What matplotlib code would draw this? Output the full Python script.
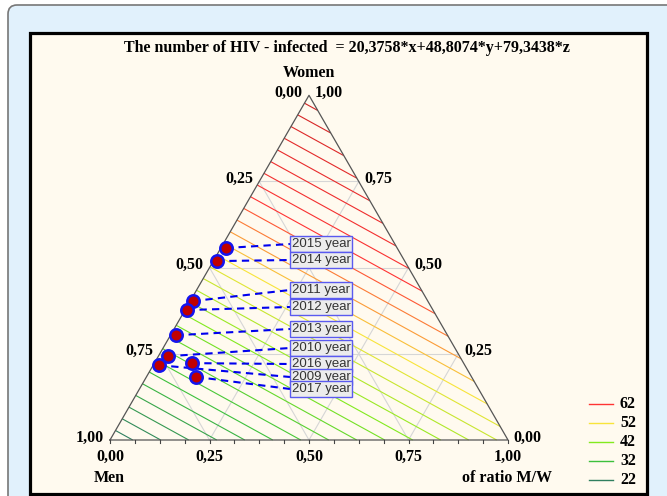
import numpy as np
import matplotlib
matplotlib.use('Agg')
import matplotlib.pyplot as plt
import matplotlib.tri as mtri
from matplotlib.colors import LinearSegmentedColormap
from matplotlib.patches import FancyBboxPatch, Rectangle

# model: infected = a*x + b*y + c*z  (x = men, y = ratio M/W, z = women)
coef_men = 20.3758
coef_ratio = 48.8074
coef_women = 79.3438

years = ['2015', '2014', '2011', '2012', '2013', '2010', '2009', '2016', '2017']
women = [0.557, 0.519, 0.403, 0.377, 0.304, 0.243, 0.217, 0.223, 0.183]
ratio = [0.013, 0.009, 0.007, 0.005, 0.014, 0.024, 0.014, 0.094, 0.125]

levels = np.arange(22, 80, 2)
legend_levels = [62, 52, 42, 32, 22]
tick_labels = ['0,00', '0,25', '0,50', '0,75', '1,00']

# label box rows (pixels)
label_rows = {'2015': 244, '2014': 260, '2011': 290, '2012': 307, '2013': 329,
              '2010': 348, '2016': 364, '2009': 377, '2017': 389}

# triangle placement in pixels
X0, SIDE, YB = 110, 398, 440
H = SIDE * np.sqrt(3) / 2


def tern(r, w):
    r = np.asarray(r, float)
    w = np.asarray(w, float)
    return X0 + SIDE * (r + w / 2), YB - H * w


cmap = LinearSegmentedColormap.from_list(
    'hiv', [(0.0, '#2f7f5f'), (10 / 58, '#3cc03c'), (20 / 58, '#82ea1e'),
            (30 / 58, '#f8e43a'), (40 / 58, '#ff3333'), (1.0, '#cc2222')])
norm = plt.Normalize(22, 80)

fig = plt.figure(figsize=(6.67, 4.96), dpi=100)
ax = fig.add_axes([0, 0, 1, 1])
ax.set_xlim(0, 667)
ax.set_ylim(496, 0)
ax.axis('off')

ax.add_patch(FancyBboxPatch((8, 5), 720, 540, boxstyle='round,pad=0,rounding_size=9',
                            fc='#e1f1fc', ec='#777777', lw=1.2, zorder=0))
ax.add_patch(Rectangle((30, 33), 617, 461, fc='#fffaef', ec='black', lw=2.3, zorder=1))

# grid over triangle for contours
n = 60
rr, ww = [], []
for i in range(n + 1):
    for j in range(n + 1 - i):
        rr.append(i / n)
        ww.append(j / n)
rr = np.array(rr)
ww = np.array(ww)
mm = 1 - rr - ww
vals = coef_men * mm + coef_ratio * rr + coef_women * ww
gx, gy = tern(rr, ww)
tri = mtri.Triangulation(gx, gy)
ax.tricontour(tri, vals, levels=levels, colors=[cmap(norm(v)) for v in levels],
              linewidths=0.8, zorder=3)

# grid lines
for v in [0.25, 0.5, 0.75]:
    for (r1, w1), (r2, w2) in [((0, v), (1 - v, v)), ((v, 0), (v, 1 - v)), ((1 - v, 0), (0, 1 - v))]:
        xs, ys = tern([r1, r2], [w1, w2])
        ax.plot(xs, ys, color='#d6d6d6', lw=0.8, zorder=2)

# triangle edges
xs, ys = tern([0, 1, 0, 0], [0, 0, 1, 0])
ax.plot(xs, ys, color='#555555', lw=0.9, zorder=4)

# bottom ticks
for t in np.arange(0, 1.0001, 1 / 16):
    tx, ty = tern(t, 0)
    ax.plot([tx, tx], [ty, ty + 3], color='#444444', lw=0.8, zorder=4)

font = dict(family='Liberation Serif', fontweight='bold', fontsize=11.5, color='black')

ax.text(347, 48, 'The number of HIV - infected  = 20,3758*x+48,8074*y+79,3438*z',
        ha='center', va='center', **font)
ax.text(309, 73, 'Women', ha='center', va='center', **font)
ax.text(302, 93, '0,00', ha='right', va='center', **font)
ax.text(315, 93, '1,00', ha='left', va='center', **font)

for k, lab in enumerate(tick_labels):
    v = k / 4
    bx, by = tern(v, 0)
    ax.text(bx, 457, lab, ha='center', va='center', **font)
ax.text(104, 438, '1,00', ha='right', va='center', **font)
ax.text(513, 438, '0,00', ha='left', va='center', **font)
for lab, w in [('0,75', 0.25), ('0,50', 0.5), ('0,25', 0.75)]:
    lx, ly = tern(0, w)
    ax.text(lx - 6, ly - 3, lab, ha='right', va='center', **font)
for lab, w in [('0,25', 0.25), ('0,50', 0.5), ('0,75', 0.75)]:
    lx, ly = tern(1 - w, w)
    ax.text(lx + 6, ly - 3, lab, ha='left', va='center', **font)
ax.text(109, 478, 'Men', ha='center', va='center', **font)
ax.text(507, 478, 'of ratio M/W', ha='center', va='center', **font)

# data points with labels
px, py = tern(ratio, women)
for yr, x1, y1 in zip(years, px, py):
    ly = label_rows[yr]
    ax.plot([x1, 290], [y1, ly], color='#0000ee', lw=1.5, ls=(0, (3.5, 2.5)), zorder=5)
for k, yr in enumerate(sorted(label_rows, key=label_rows.get)):
    ax.text(292, label_rows[yr], yr + ' year', family='Liberation Sans', fontsize=9.5,
            color='#333333', ha='left', va='center', zorder=7 + k * 0.01,
            bbox=dict(boxstyle='square,pad=0.12', fc='#ececec', ec='#5a5af0', lw=1.0))
ax.scatter(px, py, s=80, fc='#c00000', ec='#1414ee', lw=1.8, zorder=6)

# legend
for k, v in enumerate(legend_levels):
    yy = 404 + 19 * k
    ax.plot([589, 613], [yy, yy], color=cmap(norm(v)), lw=1.0, zorder=5)
    ax.text(620, yy, str(v), ha='left', va='center', **font)

fig.savefig('out.png', dpi=100)
